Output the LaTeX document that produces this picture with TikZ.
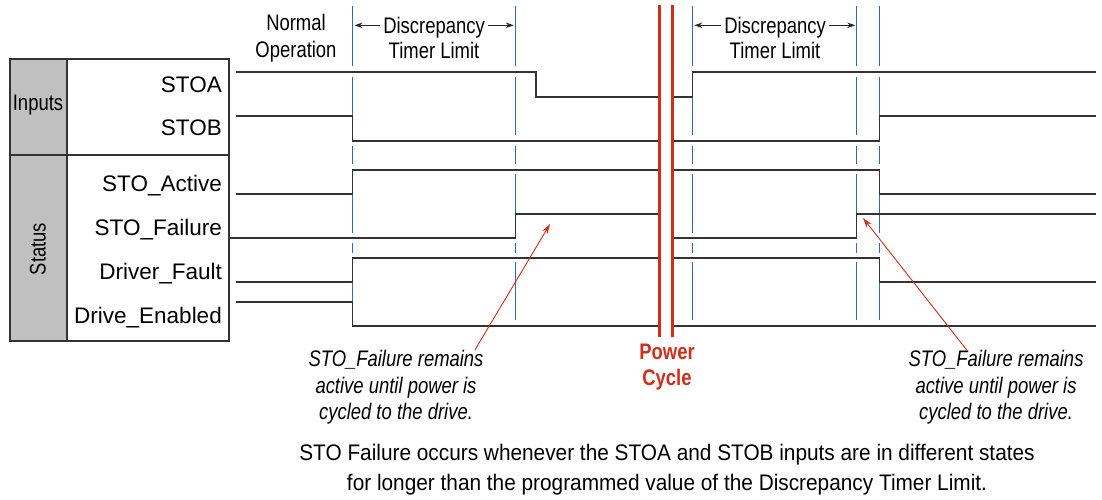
\documentclass[tikz,border=0pt]{standalone}
\usepackage{fontspec}
\setmainfont{Liberation Sans}
\newfontfamily\condfont[FakeStretch=0.82]{Liberation Sans}
\newfontfamily\notefont[FakeStretch=0.925]{Liberation Sans}
\usetikzlibrary{arrows.meta}
\definecolor{pcred}{RGB}{210,45,25}
\definecolor{tblue}{RGB}{45,105,180}
\definecolor{hdrgray}{RGB}{192,192,192}

\begin{document}
\begin{tikzpicture}[x=1pt,y=-1pt,
	sig/.style={draw=black!80,line width=1.3pt},
	tmark/.style={draw=tblue,line width=1.3pt,dash pattern=on 60pt off 11pt on 58pt off 11pt on 18pt off 10pt on 59pt off 10pt on 10pt off 9pt on 58pt off 10pt},
	cyc/.style={draw=pcred,line width=2.8pt},
	lbl/.style={font=\fontsize{22.5}{26}\selectfont,anchor=east,inner sep=0pt,text depth=0pt},
	cnd/.style={font=\condfont\fontsize{22.5}{27}\selectfont,align=center,inner sep=0pt},
	note/.style={font=\condfont\itshape\fontsize{22.5}{26.5}\selectfont,align=center,inner sep=0pt},
	harr/.style={draw=black!85,line width=1pt,-{Stealth[length=8pt,width=5.5pt]}},
	ptr/.style={draw=pcred,line width=0.9pt,-{Stealth[length=10pt,width=6pt]}}]
				\useasboundingbox (0,0) rectangle (1102,499);
				\fill[hdrgray] (10,59) rectangle (67,341);
				\draw[black!80,line width=1.3pt] (10,59) rectangle (229,341);
				\draw[black!80,line width=1.3pt] (67,59) -- (67,341);
				\draw[black!80,line width=1.3pt] (10,155) -- (229,155);
				\node[cnd] (inputs) at (38,105) {Inputs};
				\node[cnd,rotate=90] (status) at (38,249) {Status};
				\node[lbl] (stoa) at (222,85) {STOA};
				\node[lbl] (stob) at (222,128) {STOB};
				\node[lbl] (active) at (222,183) {STO\_Active};
				\node[lbl] (failure) at (222,227) {STO\_Failure};
				\node[lbl] (fault) at (222,271) {Driver\_Fault};
				\node[lbl] (enabled) at (222,315) {Drive\_Enabled};
				\draw[tmark] (352.7,6) -- (352.7,320);
				\draw[tmark] (515.3,6) -- (515.3,320);
				\draw[tmark] (692.7,6) -- (692.7,320);
				\draw[tmark] (856.7,6) -- (856.7,320);
				\draw[tmark] (879.3,6) -- (879.3,320);
				\draw[sig] (236,72) -| (536,97) -- (659,97);
				\draw[sig] (673,97) -| (692.7,72) -- (1096,72);
				\draw[sig] (236,116) -| (352.7,141) -- (659,141);
				\draw[sig] (673,141) -| (879.3,116) -- (1096,116);
				\draw[sig] (236,194) -| (352.7,170) -- (659,170);
				\draw[sig] (673,170) -| (879.3,194) -- (1096,194);
				\draw[sig] (229,238) -| (515.3,214) -- (659,214);
				\draw[sig] (673,238) -| (856.7,214) -- (1096,214);
				\draw[sig] (236,282) -| (352.7,258) -- (659,258);
				\draw[sig] (673,258) -| (879.3,282) -- (1096,282);
				\draw[sig] (236,302) -| (352.7,326) -- (659,326);
				\draw[sig] (673,326) -- (1096,326);
				\draw[cyc] (659.3,5) -- (659.3,337);
				\draw[cyc] (672.7,5) -- (672.7,337);
				\node[cnd] (normal) at (296,38) {Normal\\Operation};
				\node[cnd,text depth=0pt,inner xsep=3pt] (disc1) at (434,25.3) {Discrepancy};
				\node[cnd,text depth=0pt] (timer1) at (434,50.3) {Timer Limit};
				\node[cnd,text depth=0pt,inner xsep=3pt] (disc2) at (775,25.3) {Discrepancy};
				\node[cnd,text depth=0pt] (timer2) at (775,50.3) {Timer Limit};
				\coordinate (d1l) at (354.5,25.3);
				\coordinate (d1r) at (513.8,25.3);
				\coordinate (d2l) at (694.3,25.3);
				\coordinate (d2r) at (855.2,25.3);
				\draw[harr] (disc1) -- (d1l);
				\draw[harr] (disc1) -- (d1r);
				\draw[harr] (disc2) -- (d2l);
				\draw[harr] (disc2) -- (d2r);
				\node[cnd,font=\condfont\bfseries\fontsize{22.5}{25.5}\selectfont,text=pcred] (power) at (667,367) {Power\\Cycle};
				\node[note] (lnote) at (396,387.5) {STO\_Failure remains\\active until power is\\cycled to the drive.};
				\node[note] (rnote) at (996,387.5) {STO\_Failure remains\\active until power is\\cycled to the drive.};
				\coordinate (ltip) at (550,224);
				\coordinate (rtip) at (863,218);
				\draw[ptr] ([xshift=-9pt]lnote.north east) -- (ltip);
				\draw[ptr] ([xshift=-29pt]rnote.north) -- (rtip);
				\node[cnd,font=\notefont\fontsize{22.5}{30}\selectfont] (summary) at (667,469.7) {STO Failure occurs whenever the STOA and STOB inputs are in different states\\for longer than the programmed value of the Discrepancy Timer Limit.};
			\end{tikzpicture}
\end{document}
